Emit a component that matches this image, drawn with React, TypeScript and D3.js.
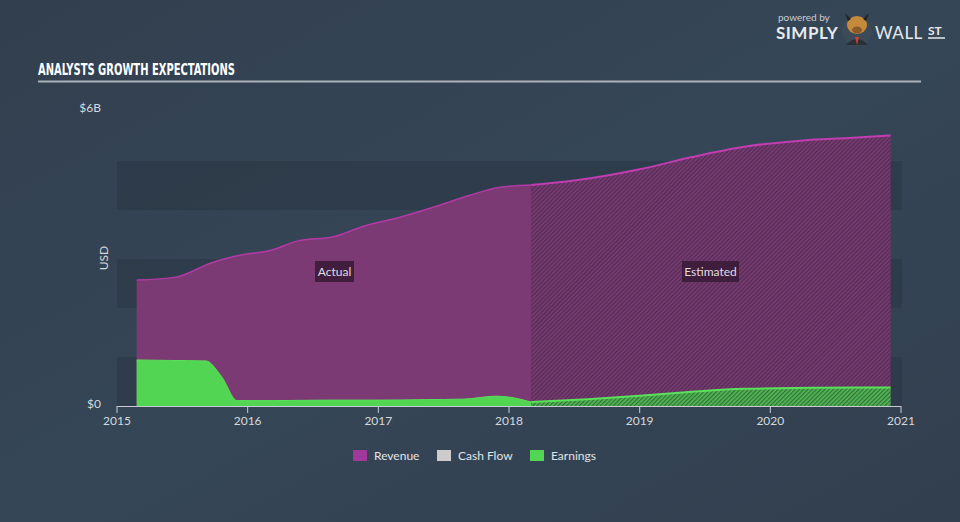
import React from "react";
import * as d3 from "d3";

const revenueDates = [2015.15, 2015.45, 2015.72, 2015.95, 2016.18, 2016.4, 2016.65, 2016.9, 2017.15, 2017.45, 2017.7, 2017.92, 2018.17];
const revenueValues = [2.57, 2.63, 2.92, 3.08, 3.18, 3.38, 3.45, 3.68, 3.84, 4.08, 4.3, 4.46, 4.51];
const revenueEstDates = [2018.17, 2018.5, 2019.0, 2019.4, 2019.8, 2020.25, 2020.6, 2020.92];
const revenueEstValues = [4.51, 4.6, 4.83, 5.08, 5.29, 5.42, 5.47, 5.52];

const earningsDates = [2015.15, 2015.4, 2015.68, 2015.8, 2015.92, 2016.2, 2016.6, 2017.0, 2017.35, 2017.65, 2017.9, 2018.05, 2018.17];
const earningsValues = [0.94, 0.93, 0.92, 0.6, 0.11, 0.11, 0.12, 0.12, 0.13, 0.14, 0.2, 0.16, 0.08];
const earningsEstDates = [2018.17, 2018.6, 2019.0, 2019.4, 2019.8, 2020.3, 2020.92];
const earningsEstValues = [0.08, 0.14, 0.21, 0.29, 0.35, 0.37, 0.38];

const xTicks = [2015, 2016, 2017, 2018, 2019, 2020, 2021];
const bandStarts = [0, 2, 4];
const legendItems = [
  { label: "Revenue", color: "#a0379a" },
  { label: "Cash Flow", color: "#cccccc" },
  { label: "Earnings", color: "#52d552" },
];

export default function App() {
  const W = 960, H = 522;
  const x = d3.scaleLinear().domain([2015, 2021]).range([117, 901]);
  const y = d3.scaleLinear().domain([0, 6]).range([406, 112]);

  const area = d3.area<[number, number]>().x(d => x(d[0])).y0(y(0)).y1(d => y(d[1])).curve(d3.curveMonotoneX);
  const line = d3.line<[number, number]>().x(d => x(d[0])).y(d => y(d[1])).curve(d3.curveMonotoneX);

  const rev = revenueDates.map((d, i) => [d, revenueValues[i]] as [number, number]);
  const revE = revenueEstDates.map((d, i) => [d, revenueEstValues[i]] as [number, number]);
  const ear = earningsDates.map((d, i) => [d, earningsValues[i]] as [number, number]);
  const earE = earningsEstDates.map((d, i) => [d, earningsEstValues[i]] as [number, number]);

  const font = "Lato, 'Open Sans', sans-serif";

  return (
    <svg width={W} height={H} style={{ position: "absolute", left: 0, top: 0, display: "block" }}>
      <defs>
        <linearGradient id="bg" x1="0" y1="0" x2="1" y2="1">
          <stop offset="0" stopColor="#323f4f" />
          <stop offset="0.5" stopColor="#354656" />
          <stop offset="1" stopColor="#323f4f" />
        </linearGradient>
        <pattern id="hatch" width="3" height="3" patternUnits="userSpaceOnUse" patternTransform="rotate(45)">
          <rect width="1.3" height="3" fill="#2e2438" opacity="0.55" />
        </pattern>
      </defs>
      <rect width={W} height={H} fill="url(#bg)" />

      {/* bands */}
      {bandStarts.map(b => (
        <rect key={b} x={117} width={785} y={y(b + 1)} height={y(b) - y(b + 1)} fill="#2c3947" opacity={0.7} />
      ))}

      {/* title */}
      <text x={38} y={75} fill="#ffffff" fontFamily="'DejaVu Sans Condensed', 'Liberation Sans Narrow', sans-serif" fontWeight="bold" fontSize={15} textLength={197} lengthAdjust="spacingAndGlyphs">ANALYSTS GROWTH EXPECTATIONS</text>
      <line x1={38} x2={921} y1={81.5} y2={81.5} stroke="#aab1b9" strokeWidth={2} />

      {/* logo */}
      <text x={778} y={21} fill="#c8ccd2" fontFamily={font} fontSize={10}>powered by</text>
      <text x={776} y={39} fill="#e8eaed" fontFamily={font} fontWeight="bold" fontSize={17} letterSpacing={0.5}>SIMPLY</text>
      <circle cx={857} cy={31} r={15} fill="#3d4a58" />
      <ellipse cx={857} cy={25} rx={10} ry={9} fill="#c58a3a" />
      <path d="M845 13 L848 21 L851 19 Z M869 13 L866 21 L863 19 Z" fill="#222" />
      <ellipse cx={857} cy={30} rx={5} ry={3.5} fill="#8a5a2a" />
      <path d="M846 45 Q857 33 868 45 Z" fill="#2a2f36" />
      <path d="M855 37 L859 37 L857 45 Z" fill="#d0402a" />
      <text x={875} y={39} fill="#e8eaed" fontFamily={font} fontSize={17} letterSpacing={0.5}>WALL</text>
      <text x={928} y={35} fill="#e8eaed" fontFamily={font} fontWeight="bold" fontSize={12}>ST</text>
      <line x1={928} x2={945} y1={38} y2={38} stroke="#e8eaed" strokeWidth={1.5} />

      {/* y labels */}
      <text x={101} y={112} fill="#d5d9de" fontFamily={font} fontSize={12} textAnchor="end">$6B</text>
      <text x={101} y={408} fill="#d5d9de" fontFamily={font} fontSize={12} textAnchor="end">$0</text>
      <text transform="translate(108,258) rotate(-90)" fill="#d5d9de" fontFamily={font} fontSize={12} textAnchor="middle">USD</text>

      {/* revenue */}
      <path d={area(rev) || ""} fill="#7b3a73" />
      <path d={area(revE) || ""} fill="#7b3a73" />
      <path d={area(revE) || ""} fill="url(#hatch)" />
      <path d={line(rev) || ""} fill="none" stroke="#b33aa6" strokeWidth={1.5} />
      <path d={line(revE) || ""} fill="none" stroke="#c03db2" strokeWidth={2} />

      {/* earnings */}
      <path d={area(ear) || ""} fill="#52d552" />
      <path d={area(earE) || ""} fill="#4cbf4e" />
      <path d={area(earE) || ""} fill="url(#hatch)" />
      <path d={line(ear) || ""} fill="none" stroke="#5ae05a" strokeWidth={1} />
      <path d={line(earE) || ""} fill="none" stroke="#5ae05a" strokeWidth={2} />

      {/* x axis */}
      <line x1={x(2015)} x2={x(2021)} y1={406.5} y2={406.5} stroke="#c8ccd2" strokeWidth={1} />
      {xTicks.map(t => (
        <g key={t}>
          <line x1={x(t)} x2={x(t)} y1={406} y2={413} stroke="#c8ccd2" strokeWidth={1} />
          <text x={x(t)} y={425} fill="#d5d9de" fontFamily={font} fontSize={12} textAnchor="middle">{t}</text>
        </g>
      ))}

      {/* region labels */}
      <rect x={315} y={261} width={39} height={21} fill="#3b1c38" opacity={0.9} />
      <text x={334.5} y={276} fill="#e0dce0" fontFamily={font} fontSize={12} textAnchor="middle">Actual</text>
      <rect x={682} y={261} width={57} height={21} fill="#3b1c38" opacity={0.9} />
      <text x={710.5} y={276} fill="#e0dce0" fontFamily={font} fontSize={12} textAnchor="middle">Estimated</text>

      {/* legend */}
      {legendItems.map((it, i) => {
        const lx = [353, 437, 530][i];
        return (
          <g key={it.label}>
            <rect x={lx} y={450} width={14} height={11} fill={it.color} />
            <text x={lx + 21} y={460} fill="#e0e3e7" fontFamily={font} fontSize={12}>{it.label}</text>
          </g>
        );
      })}
    </svg>
  );
}
